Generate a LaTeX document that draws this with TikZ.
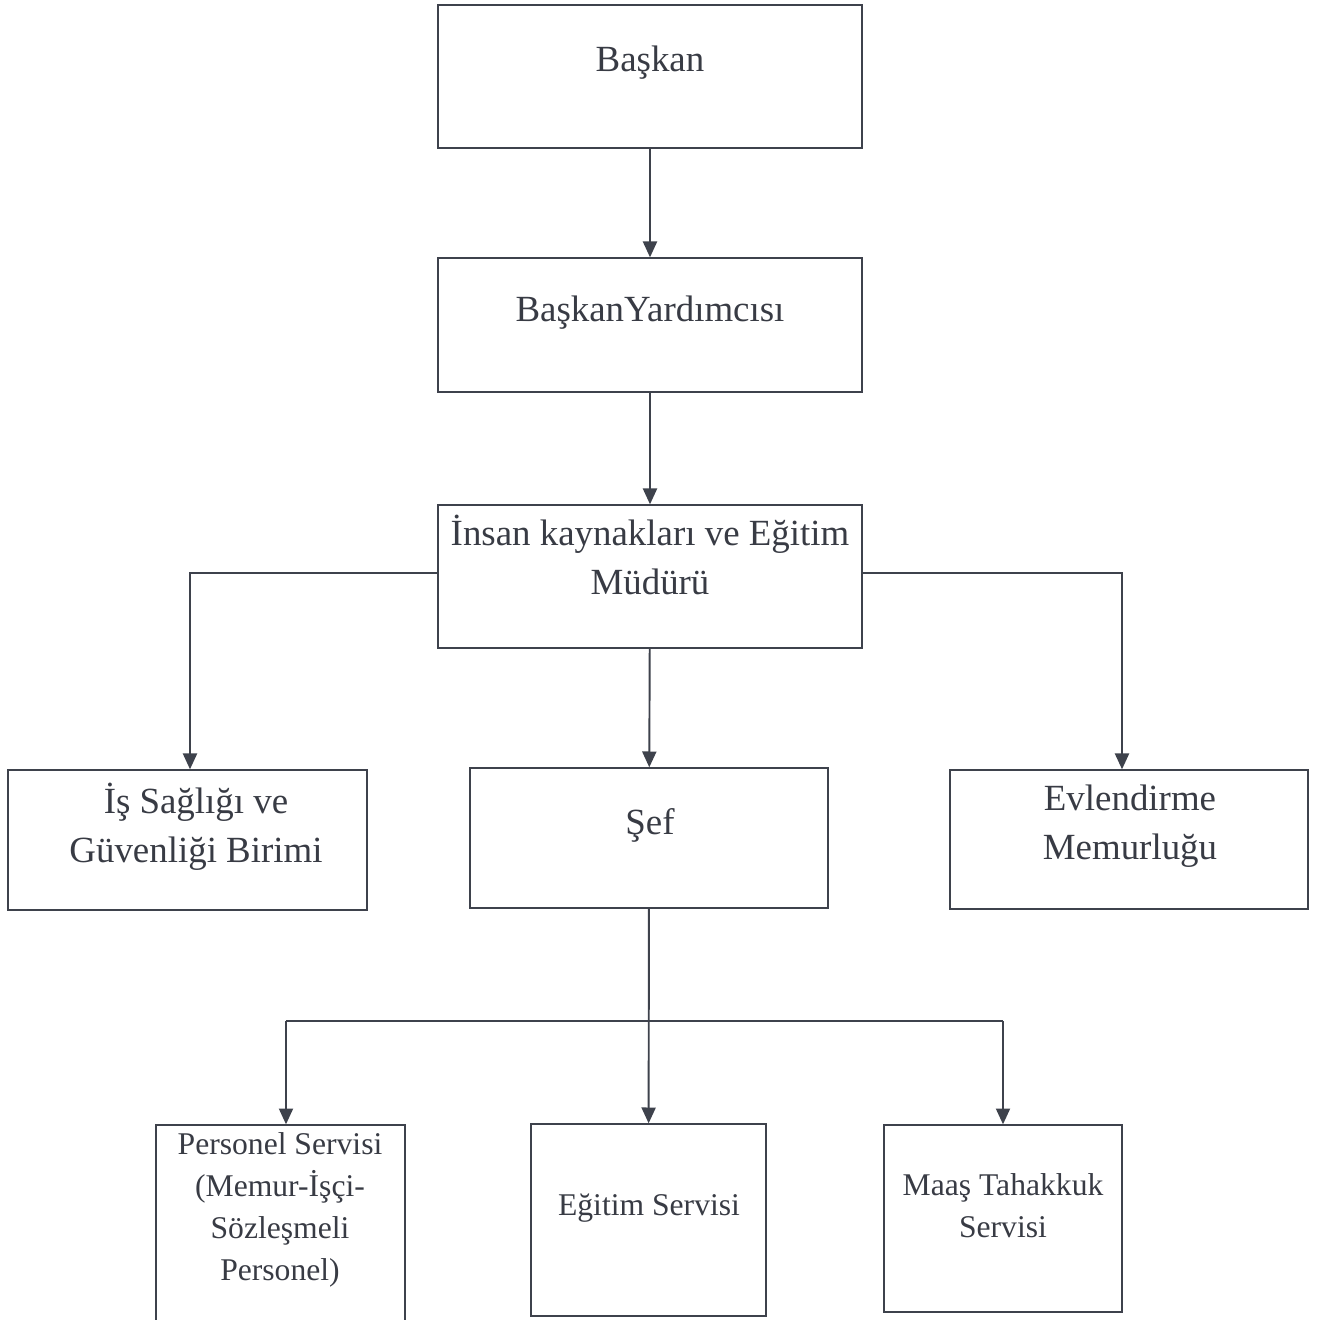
\documentclass[tikz,border=0pt]{standalone}
\usepackage{fontspec}
\setmainfont{Liberation Serif}
\usetikzlibrary{fit,arrows.meta}
\definecolor{ink}{HTML}{3E424C}
\tikzset{
box/.style={draw=ink,line width=0.8pt,inner sep=0pt},
lbl/.style={align=center,text=ink!90!black,font=\fontsize{21}{28}\selectfont},
slbl/.style={align=center,text=ink!90!black,font=\fontsize{18}{24}\selectfont},
arr/.style={draw=ink,line width=1.1pt,-{Triangle[width=8pt,length=9pt]}}
}
\begin{document}
\begin{tikzpicture}[x=0.02cm,y=-0.02cm]
\useasboundingbox (0,0) rectangle (1325,1319);

\node[box,fit={(438,5) (862,148)}] (baskan) {};
\node[box,fit={(438,258) (862,392)}] (yard) {};
\node[box,fit={(438,505) (862,648)}] (insan) {};
\node[box,fit={(8,770) (367,910)}] (isg) {};
\node[box,fit={(470,768) (828,908)}] (sef) {};
\node[box,fit={(950,770) (1308,909)}] (evl) {};
\node[box,fit={(156,1125) (405,1321)}] (pers) {};
\node[box,fit={(531,1124) (766,1316)}] (egit) {};
\node[box,fit={(884,1125) (1122,1312)}] (maas) {};

\node[lbl] (baskanT) at (650,63) {Başkan};
\node[lbl] (yardT) at (650,313) {BaşkanYardımcısı};
\node[lbl] (insanT) at (650,555) {İnsan kaynakları ve Eğitim\\Müdürü};
\node[lbl] (isgT) at (196,827) {İş Sağlığı ve\\Güvenliği Birimi};
\node[lbl] (sefT) at (650,825) {Şef};
\node[lbl] (evlT) at (1130,826) {Evlendirme\\Memurluğu};
\node[slbl] (persT) at (280,1210) {Personel Servisi\\(Memur-İşçi-\\Sözleşmeli\\Personel)};
\node[slbl] (egitT) at (649,1208) {Eğitim Servisi};
\node[slbl] (maasT) at (1003,1206) {Maaş Tahakkuk\\Servisi};

\draw[arr] (baskan) -- (yard);
\draw[arr] (yard) -- (insan);
\draw[arr] (insan) -- (sef);
\draw[arr] ([yshift=0.07cm]insan.west) -| ([xshift=0.05cm]isg.north);
\draw[arr] ([yshift=0.07cm]insan.east) -| ([xshift=-0.14cm]evl.north);

\coordinate (bar) at (646,1021);
\coordinate (barL) at (286,1021);
\draw[arr] (sef) -- (egit);
\draw[draw=ink,line width=1.1pt] (barL) -- (maas |- bar);
\draw[arr] (barL) -- (barL |- pers.north);
\draw[arr] (maas |- bar) -- (maas.north);
\end{tikzpicture}
\end{document}
